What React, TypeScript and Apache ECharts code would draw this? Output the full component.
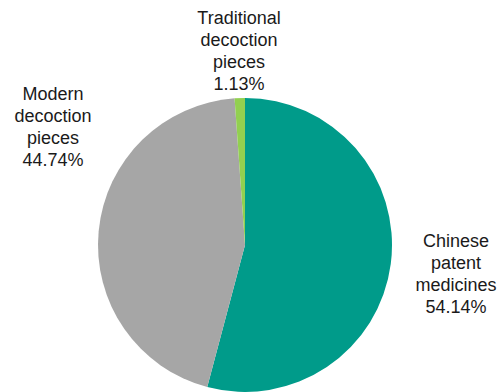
import React, { useEffect, useRef } from "react";
import * as echarts from "echarts";

const categories = ["Chinese\npatent\nmedicines", "Modern\ndecoction\npieces", "Traditional\ndecoction\npieces"];
const values = [54.14, 44.74, 1.13];
const colors = ["#009B8A", "#A6A6A6", "#92D050"];
const labelCenters = [
  [456, 274],
  [53, 127],
  [239, 51],
];

export default function App() {
  const ref = useRef<HTMLDivElement>(null);
  useEffect(() => {
    document.body.style.margin = "0";
    const chart = echarts.init(ref.current!, null, { renderer: "svg" });
    chart.setOption({
      animation: false,
      backgroundColor: "#ffffff",
      series: [
        {
          type: "pie",
          center: [245, 245],
          radius: 147,
          startAngle: 90,
          clockwise: true,
          avoidLabelOverlap: false,
          data: categories.map((c, i) => ({
            name: c,
            value: values[i],
            itemStyle: { color: colors[i] },
          })),
          itemStyle: { borderWidth: 0 },
          label: {
            show: true,
            position: "outside",
            formatter: (p: any) => `${p.name}\n${p.value.toFixed(2)}%`,
            fontFamily: "Liberation Sans, Arial, sans-serif",
            fontSize: 18,
            lineHeight: 22,
            color: "#1a1a1a",
            align: "center",
          },
          labelLine: { show: false },
          labelLayout: (params: any) => ({
            x: labelCenters[params.dataIndex][0],
            y: labelCenters[params.dataIndex][1],
            align: "center",
            verticalAlign: "middle",
          }),
        },
      ],
    });
    return () => chart.dispose();
  }, []);
  return <div ref={ref} style={{ width: 500, height: 392 }} />;
}
